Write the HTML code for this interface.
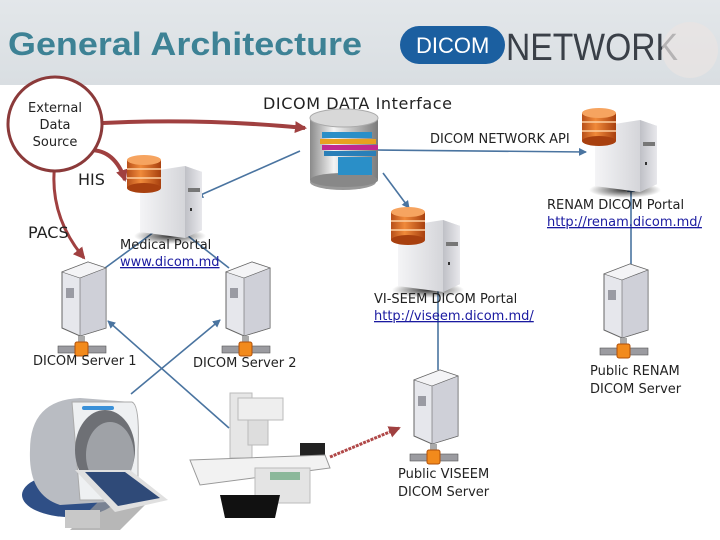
<!DOCTYPE html>
<html><head><meta charset="utf-8"><style>
body{margin:0;background:#fff}
svg{display:block}
text{font-family:"DejaVu Sans","Liberation Sans",sans-serif}
text.lib{font-family:"Liberation Sans",sans-serif}
</style></head><body>
<svg width="720" height="540" viewBox="0 0 720 540" xmlns="http://www.w3.org/2000/svg">
<defs>
<linearGradient id="hdr" x1="0" x2="0" y1="0" y2="1"><stop offset="0" stop-color="#e3e7ea"/><stop offset="1" stop-color="#d9dee2"/></linearGradient>
<linearGradient id="front" x1="0" x2="1"><stop offset="0" stop-color="#f4f4f6"/><stop offset="1" stop-color="#c9cacf"/></linearGradient>
<linearGradient id="side" x1="0" x2="1"><stop offset="0" stop-color="#bfc0c6"/><stop offset="1" stop-color="#e8e8ec"/></linearGradient>
<linearGradient id="org" x1="0" x2="1"><stop offset="0" stop-color="#b8501a"/><stop offset=".4" stop-color="#f08a3a"/><stop offset="1" stop-color="#a8400f"/></linearGradient>
<linearGradient id="cyl" x1="0" x2="1"><stop offset="0" stop-color="#8a8a8a"/><stop offset=".35" stop-color="#f4f4f4"/><stop offset="1" stop-color="#7a7a7a"/></linearGradient>
<radialGradient id="shad"><stop offset="0" stop-color="#000" stop-opacity=".8"/><stop offset="1" stop-color="#000" stop-opacity="0"/></radialGradient>
<g id="db">
 <rect x="0" y="5" width="34" height="28" fill="url(#org)"/>
 <ellipse cx="17" cy="33" rx="17" ry="5" fill="#a8400f"/>
 <line x1="0" y1="14" x2="34" y2="14" stroke="#ffd0a0" stroke-width="1.5"/>
 <line x1="0" y1="23" x2="34" y2="23" stroke="#ffd0a0" stroke-width="1.5"/>
 <ellipse cx="17" cy="5" rx="17" ry="5" fill="#f6a460"/>
</g>
<g id="box">
 <ellipse cx="40" cy="78" rx="36" ry="8" fill="url(#shad)"/>
 <polygon points="10,15 55,8 72,14 72,72 55,80 10,74" fill="url(#front)"/>
 <polygon points="55,8 72,14 72,72 55,80" fill="url(#side)"/>
 <rect x="58" y="30" width="12" height="4" fill="#777"/>
 <rect x="60" y="50" width="2" height="3" fill="#333"/>
</g>
<g id="tower">
 <polygon points="4,10 30,0 48,6 48,66 22,74 4,66" fill="#e6e7ec" stroke="#666" stroke-width="1"/>
 <polygon points="4,10 30,0 48,6 22,16" fill="#f4f4f6" stroke="#666" stroke-width=".6"/>
 <polygon points="22,16 48,6 48,66 22,74" fill="#cfd0d8" stroke="#666" stroke-width=".6"/>
 <rect x="8" y="26" width="8" height="10" fill="#9a9ba3"/>
 <rect x="20" y="74" width="7" height="14" fill="#aaa"/>
 <rect x="0" y="84" width="48" height="7" fill="#9b9ba0" stroke="#555" stroke-width=".6"/>
 <rect x="17" y="80" width="13" height="14" rx="2" fill="#f28a1c" stroke="#b0500a"/>
</g>
<marker id="ab" markerWidth="8" markerHeight="8" refX="7" refY="4" orient="auto" markerUnits="userSpaceOnUse"><path d="M0,0 L8,4 L0,8z" fill="#4a74a0"/></marker>
<marker id="ar" markerWidth="12" markerHeight="12" refX="10" refY="6" orient="auto" markerUnits="userSpaceOnUse"><path d="M0,0 L12,6 L0,12z" fill="#a04040"/></marker>
</defs>
<rect width="720" height="85" fill="url(#hdr)"/>
<text class="lib" x="8" y="55" font-weight="bold" font-size="32" fill="#3d8295" textLength="354" lengthAdjust="spacingAndGlyphs">General Architecture</text>
<rect x="400" y="26" width="105" height="38" rx="19" fill="#1b5fa0"/>
<text class="lib" x="416" y="53" font-size="22" fill="#fff">DICOM</text>
<text class="lib" x="506" y="60" font-size="38" fill="#3a4048" textLength="172" lengthAdjust="spacingAndGlyphs">NETWORK</text>
<circle cx="690" cy="50" r="28" fill="#e9e4e2" opacity=".7"/>

<!-- red connectors -->
<path d="M103,123 Q200,118 305,128" stroke="#a04040" stroke-width="4" fill="none" marker-end="url(#ar)"/>
<path d="M90,150 Q115,150 125,180" stroke="#a04040" stroke-width="4" fill="none" marker-end="url(#ar)"/>
<path d="M55,162 Q48,215 84,258" stroke="#a04040" stroke-width="3" fill="none" marker-end="url(#ar)"/>
<path d="M330,457 L399,428" stroke="#b04848" stroke-width="3" stroke-dasharray="3,1" fill="none" marker-end="url(#ar)"/>

<!-- blue connectors -->
<g stroke="#4a74a0" stroke-width="1.6" fill="none">
<line x1="376" y1="150" x2="586" y2="152" marker-end="url(#ab)"/>
<line x1="300" y1="151" x2="196" y2="197" marker-end="url(#ab)"/>
<line x1="383" y1="173" x2="409" y2="208" marker-end="url(#ab)"/>
<line x1="154" y1="232" x2="105" y2="268"/>
<line x1="183" y1="232" x2="229" y2="268"/>
<line x1="631" y1="268" x2="631" y2="185" marker-end="url(#ab)"/>
<line x1="229" y1="428" x2="108" y2="321" marker-end="url(#ab)"/>
<line x1="131" y1="394" x2="220" y2="320" marker-end="url(#ab)"/>
<line x1="438" y1="370" x2="438" y2="283" marker-end="url(#ab)"/>
</g>

<!-- external data source -->
<circle cx="55" cy="124" r="47" fill="#fff" stroke="#8b3a3a" stroke-width="3"/>
<text font-size="13" fill="#222" text-anchor="middle"><tspan x="55" y="112">External</tspan><tspan x="55" y="129">Data</tspan><tspan x="55" y="146">Source</tspan></text>

<!-- DICOM data interface -->
<text x="263" y="109" font-size="16" fill="#222" textLength="189">DICOM DATA Interface</text>
<g>
 <ellipse cx="343" cy="182" rx="33" ry="8" fill="#000" opacity=".4"/>
 <rect x="310" y="118" width="68" height="62" fill="url(#cyl)"/>
 <ellipse cx="344" cy="180" rx="34" ry="7" fill="#888"/>
 <ellipse cx="344" cy="118" rx="34" ry="9" fill="#d8d8d8" stroke="#aaa"/>
 <rect x="322" y="132" width="50" height="6" fill="#2a8fc8"/>
 <rect x="320" y="139" width="56" height="5" fill="#e8a020"/>
 <rect x="322" y="145" width="56" height="5" fill="#c02890"/>
 <rect x="324" y="151" width="52" height="5" fill="#2a7fb8"/>
 <rect x="338" y="157" width="34" height="18" fill="#2a8fc8"/>
</g>
<text x="430" y="143" font-size="13" fill="#222">DICOM NETWORK API</text>

<!-- portal servers -->
<use href="#box" x="130" y="158"/><use href="#db" x="127" y="155"/>
<use href="#box" x="585" y="112"/><use href="#db" x="582" y="108"/>
<use href="#box" x="388" y="212"/><use href="#db" x="391" y="207"/>

<text x="78" y="185" font-size="16" fill="#222">HIS</text>
<text x="28" y="238" font-size="16" fill="#222">PACS</text>
<text x="120" y="249" font-size="13" fill="#222">Medical Portal</text>
<text x="120" y="266" font-size="13" fill="#1a1aa0" text-decoration="underline">www.dicom.md</text>
<text x="547" y="209" font-size="13" fill="#222">RENAM DICOM Portal</text>
<text x="547" y="226" font-size="13" fill="#1a1aa0" text-decoration="underline">http://renam.dicom.md/</text>
<text x="374" y="303" font-size="13" fill="#222">VI-SEEM DICOM Portal</text>
<text x="374" y="320" font-size="13" fill="#1a1aa0" text-decoration="underline">http://viseem.dicom.md/</text>

<!-- tower servers -->
<use href="#tower" x="58" y="262"/>
<use href="#tower" x="222" y="262"/>
<use href="#tower" x="600" y="264"/>
<use href="#tower" x="410" y="370"/>
<text x="33" y="365" font-size="13" fill="#222">DICOM Server 1</text>
<text x="193" y="367" font-size="13" fill="#222">DICOM Server 2</text>
<text x="590" y="375" font-size="13" fill="#222">Public RENAM</text>
<text x="590" y="393" font-size="13" fill="#222">DICOM Server</text>
<text x="398" y="478" font-size="13" fill="#222">Public VISEEM</text>
<text x="398" y="496" font-size="13" fill="#222">DICOM Server</text>

<!-- CT scanner -->
<g>
 <ellipse cx="70" cy="495" rx="48" ry="22" fill="#2f4f86"/>
 <polygon points="150,500 100,500 70,530 120,530" fill="#999" opacity=".7"/>
 <path d="M30,450 Q30,400 80,398 L132,402 L138,500 L60,505 Q28,495 30,450z" fill="#b9bcc2"/>
 <path d="M72,402 L132,402 Q140,405 138,450 L138,500 L80,500z" fill="#eef0f2" stroke="#aaa"/>
 <ellipse cx="105" cy="450" rx="30" ry="40" fill="#6e7075"/>
 <ellipse cx="110" cy="455" rx="24" ry="33" fill="#9fa2a7"/>
 <rect x="82" y="406" width="32" height="4" rx="2" fill="#3a90d8"/>
 <polygon points="75,470 130,470 168,500 115,512" fill="#e0e0e0"/>
 <polygon points="85,472 125,472 160,498 118,506" fill="#2f4a78"/>
 <rect x="65" y="510" width="35" height="18" fill="#c8c8c8"/>
</g>
<!-- X-ray table -->
<g>
 <rect x="230" y="393" width="22" height="65" fill="#e6e6e6" stroke="#bbb"/>
 <rect x="238" y="398" width="45" height="22" fill="#eee" stroke="#bbb"/>
 <rect x="248" y="420" width="20" height="25" fill="#ddd" stroke="#bbb"/>
 <rect x="300" y="443" width="25" height="20" fill="#222"/>
 <polygon points="190,460 325,455 330,468 200,485" fill="#f2f2f2" stroke="#999"/>
 <rect x="255" y="468" width="55" height="35" fill="#e4e4e4" stroke="#bbb"/>
 <rect x="270" y="472" width="30" height="8" fill="#8bb89a"/>
 <polygon points="220,495 280,495 275,518 225,518" fill="#111"/>
</g>
</svg>
</body></html>
